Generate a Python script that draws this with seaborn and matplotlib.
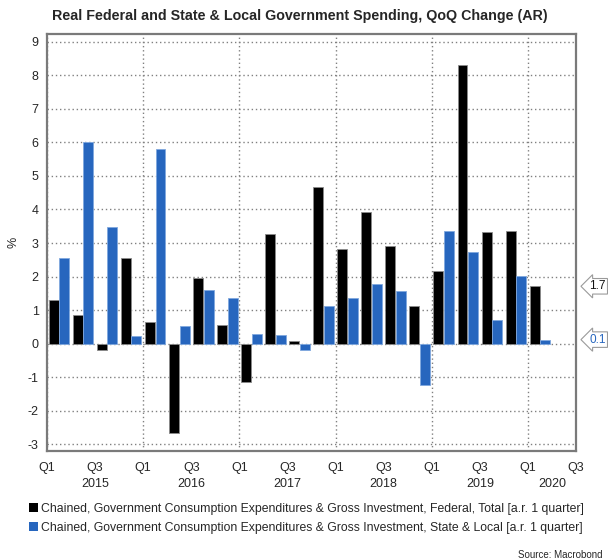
import matplotlib
matplotlib.use("Agg")
import matplotlib.pyplot as plt
from matplotlib.patches import Patch
import seaborn as sns
import pandas as pd

# quarterly data, 2015Q1 .. 2020Q1
quarters = ["2015Q1", "2015Q2", "2015Q3", "2015Q4",
            "2016Q1", "2016Q2", "2016Q3", "2016Q4",
            "2017Q1", "2017Q2", "2017Q3", "2017Q4",
            "2018Q1", "2018Q2", "2018Q3", "2018Q4",
            "2019Q1", "2019Q2", "2019Q3", "2019Q4",
            "2020Q1"]
federal = [1.31, 0.86, -0.19, 2.55, 0.66, -2.67, 1.96, 0.57,
           -1.14, 3.26, 0.08, 4.66, 2.81, 3.92, 2.92, 1.11,
           2.17, 8.31, 3.34, 3.37, 1.71]
state_local = [2.55, 6.0, 3.47, 0.23, 5.8, 0.52, 1.61, 1.37,
               0.30, 0.26, -0.2, 1.13, 1.37, 1.77, 1.57, -1.24,
               3.36, 2.74, 0.71, 2.02, 0.12]
series_names = [
    "Chained, Government Consumption Expenditures & Gross Investment, Federal, Total [a.r. 1 quarter]",
    "Chained, Government Consumption Expenditures & Gross Investment, State & Local [a.r. 1 quarter]",
]
years = ["2015", "2016", "2017", "2018", "2019", "2020"]

black = "#000000"
blue = "#2766be"

df = pd.concat([
    pd.DataFrame({"quarter": quarters, "value": federal, "series": series_names[0]}),
    pd.DataFrame({"quarter": quarters, "value": state_local, "series": series_names[1]}),
])

sns.set_style("white")
plt.rcParams["font.family"] = ["Liberation Sans", "DejaVu Sans"]

fig = plt.figure(figsize=(6.08, 5.6), dpi=100)
ax = fig.add_axes([47 / 608, 1 - 451 / 560, (576 - 47) / 608, (451 - 34) / 560])

sns.barplot(data=df, x="quarter", y="value", hue="series", order=quarters,
            hue_order=series_names, palette=[black, blue], saturation=1,
            width=0.88, gap=0.06, legend=False, ax=ax, zorder=3)

# bar edges like the original
n = len(quarters)
for i, p in enumerate(ax.patches):
    if i < n:
        p.set_edgecolor("#8a8a8a")
    else:
        p.set_edgecolor("#7fa8de")
    p.set_linewidth(0.6)

ax.set_xlim(-0.5, 21.5)
ax.set_ylim(-3.2, 9.23)
ax.set_yticks(range(-3, 10))
ax.set_yticklabels([str(v) for v in range(-3, 10)], fontsize=9)

q1_pos = [-0.5 + 4 * k for k in range(6)]
q3_pos = [1.5 + 4 * k for k in range(6)]
ax.set_xticks(q1_pos)
ax.set_xticklabels(["Q1"] * len(q1_pos), fontsize=9)
ax.set_xticks(q3_pos, minor=True)
ax.set_xticklabels(["Q3"] * len(q3_pos), minor=True, fontsize=9)
ax.tick_params(axis="x", which="both", length=4, width=1, color="#555555", pad=4, direction="out")
ax.tick_params(axis="y", length=4, width=1, color="#555555", pad=2, direction="out")
ax.set_xlabel("")
ax.set_ylabel("%", fontsize=9, labelpad=6)

# year labels centred on the visible part of each year
for k, yr in enumerate(years):
    lo = -0.5 + 4 * k
    hi = min(lo + 4, 21.5)
    ax.text((lo + hi) / 2, -0.079, yr, transform=ax.get_xaxis_transform(),
            ha="center", va="center", fontsize=9)

ax.grid(False)
ax.yaxis.grid(True, color="#808080", linestyle=(0, (1, 2)), linewidth=1, zorder=0)
for x in q1_pos:
    ax.axvline(x, color="#808080", linestyle=(0, (1, 2)), linewidth=1, zorder=0)
ax.set_axisbelow(True)

for s in ax.spines.values():
    s.set_visible(True)
    s.set_color("#7a7a7a")
    s.set_linewidth(1.6)

# last value tags on the right
trans = ax.get_yaxis_transform()
for val, col in [(federal[-1], "#111111"), (state_local[-1], blue)]:
    ax.annotate(f"{val:.1f}", xy=(1.0, val), xycoords=trans, xytext=(1.025, val),
                textcoords=trans, va="center", ha="left", fontsize=8.5, color=col,
                bbox=dict(boxstyle="larrow,pad=0.15", fc="white", ec="#9a9a9a", lw=0.8),
                annotation_clip=False)

fig.suptitle("Real Federal and State & Local Government Spending, QoQ Change (AR)",
             x=0.5 - 4 / 608, y=1 - 16 / 560, va="center", fontsize=10.3, fontweight="bold")

handles = [Patch(facecolor=black, edgecolor="none"), Patch(facecolor=blue, edgecolor="none")]
fig.legend(handles, series_names, loc="upper left", bbox_to_anchor=(29 / 608, 1 - 503 / 560),
           frameon=False, fontsize=8.8, handlelength=0.75, handleheight=0.75,
           handletextpad=0.2, labelspacing=0.55, borderpad=0, borderaxespad=0)

fig.text(603 / 608, 1 - 555 / 560, "Source: Macrobond", ha="right", va="center", fontsize=7)

fig.savefig("out.png", dpi=100)
